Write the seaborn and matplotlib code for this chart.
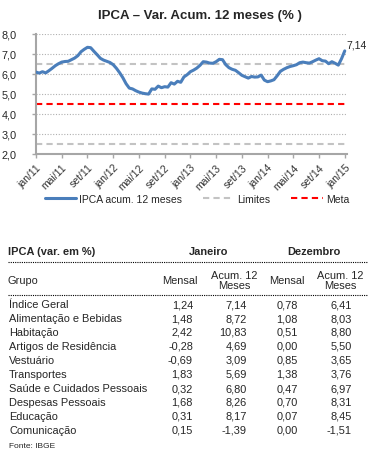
import numpy as np
import pandas as pd
import matplotlib
matplotlib.use("Agg")
import matplotlib.pyplot as plt
import seaborn as sns
from matplotlib.lines import Line2D

# serie IPCA acumulado 12 meses (quinzenal, jan/11 a jan/15)
ipca = [6.08, 6.03, 6.10, 6.04, 6.15, 6.27, 6.40, 6.50, 6.58, 6.61,
        6.62, 6.70, 6.78, 6.90, 7.10, 7.22, 7.32, 7.30, 7.12, 6.95,
        6.77, 6.68, 6.62, 6.56, 6.45, 6.27, 6.05, 5.80, 5.50, 5.28,
        5.24, 5.15, 5.08, 5.03, 5.00, 4.98, 5.24, 5.22, 5.38, 5.30,
        5.35, 5.33, 5.55, 5.48, 5.62, 5.57, 5.84, 5.95, 6.10, 6.18,
        6.28, 6.42, 6.60, 6.58, 6.53, 6.52, 6.60, 6.72, 6.70, 6.45,
        6.30, 6.22, 6.17, 6.05, 5.92, 5.85, 5.78, 5.86, 5.83, 5.84,
        5.93, 5.68, 5.60, 5.64, 5.70, 5.90, 6.12, 6.22, 6.30, 6.36,
        6.40, 6.45, 6.55, 6.58, 6.55, 6.53, 6.60, 6.68, 6.75, 6.65,
        6.63, 6.50, 6.60, 6.52, 6.43, 6.75, 7.14]
limites = [6.5, 2.5]
meta = 4.5
xlabels = ['jan/11', 'mai/11', 'set/11', 'jan/12', 'mai/12', 'set/12', 'jan/13',
           'mai/13', 'set/13', 'jan/14', 'mai/14', 'set/14', 'jan/15']

# tabela
grupos = ['Índice Geral', 'Alimentação e Bebidas', 'Habitação', 'Artigos de Residência',
          'Vestuário', 'Transportes', 'Saúde e Cuidados Pessoais', 'Despesas Pessoais',
          'Educação', 'Comunicação']
jan_mensal = [1.24, 1.48, 2.42, -0.28, -0.69, 1.83, 0.32, 1.68, 0.31, 0.15]
jan_acum = [7.14, 8.72, 10.83, 4.69, 3.09, 5.69, 6.80, 8.26, 8.17, -1.39]
dez_mensal = [0.78, 1.08, 0.51, 0.00, 0.85, 1.38, 0.47, 0.70, 0.07, 0.00]
dez_acum = [6.41, 8.03, 8.80, 5.50, 3.65, 3.76, 6.97, 8.31, 8.45, -1.51]

sns.set_style('white')
plt.rcParams['font.family'] = ['Liberation Sans', 'DejaVu Sans']

W, H = 375, 456
fig = plt.figure(figsize=(W / 100, H / 100), dpi=100)

def fx(px):
    return px / W

def fy(py):
    return 1 - py / H

ax = fig.add_axes([fx(35.7), fy(154.7), fx(347) - fx(35.7), fy(34.7) - fy(154.7)])

df = pd.DataFrame({'i': np.arange(len(ipca)), 'v': ipca})
azul = '#4a7ebb'
for y in limites:
    ax.axhline(y, color='#c3c3c3', lw=1.5, ls=(0, (3, 2)), zorder=2)
ax.axhline(meta, color='#ff0000', lw=1.5, ls=(0, (3, 2)), zorder=2)
sns.lineplot(data=df, x='i', y='v', ax=ax, color=azul, lw=2.2, zorder=3)

ax.set_xlim(-0.1, 96.7)
ax.set_ylim(2, 8)
ax.set_yticks(range(2, 9))
ax.set_yticklabels([f'{v},0' for v in range(2, 9)], fontsize=7.8)
ax.set_xticks(np.arange(0, 97, 8))
ax.set_xticklabels(xlabels, rotation=45, ha='right', rotation_mode='anchor',
                   fontsize=7.5, color='#333333')
ax.set_xlabel('')
ax.set_ylabel('')
for y in range(3, 9):
    ax.axhline(y, color='#b0b0b0', lw=0.8, ls=(0, (1, 1.5)), zorder=1)
for s in ['top', 'right']:
    ax.spines[s].set_visible(False)
for s in ['left', 'bottom']:
    ax.spines[s].set_color('#a6a6a6')
    ax.spines[s].set_linewidth(1.5)
ax.tick_params(axis='y', length=3, width=1, color='#a6a6a6', pad=11, left=True)
ax.tick_params(axis='x', length=3, width=1, color='#a6a6a6', pad=3, bottom=True)
ax.annotate('7,14', xy=(96, 7.14), xytext=(1, 1), textcoords='offset points',
            fontsize=7.5, ha='left', va='bottom', annotation_clip=False)

fig.text(0.5 * (fx(97) + fx(303)), fy(16), 'IPCA – Var. Acum. 12 meses (% )',
         ha='center', va='center', fontsize=9.5, fontweight='bold')

handles = [Line2D([], [], color=azul, lw=2.2),
           Line2D([], [], color='#c3c3c3', lw=1.5, ls=(0, (3, 2))),
           Line2D([], [], color='#ff0000', lw=1.5, ls=(0, (3, 2)))]
fig.legend(handles, ['IPCA acum. 12 meses', 'Limites', 'Meta'], loc='center',
           bbox_to_anchor=(fx(197), fy(200)), ncol=3, frameon=False, fontsize=7.5,
           handlelength=3.0, columnspacing=2.0, handletextpad=0.3)

# tabela
fs = 7.9
fig.text(fx(8), fy(252), 'IPCA (var. em %)', fontsize=fs, fontweight='bold', va='center')
fig.text(fx(209), fy(252), 'Janeiro', fontsize=fs, fontweight='bold', va='center', ha='center')
fig.text(fx(314), fy(252), 'Dezembro', fontsize=fs, fontweight='bold', va='center', ha='center')
fig.add_artist(Line2D([fx(8), fx(368)], [fy(263), fy(263)], color='black', lw=0.8,
                      ls=(0, (1, 1))))
fig.text(fx(8), fy(281), 'Grupo', fontsize=fs, va='center')
fig.text(fx(180), fy(281), 'Mensal', fontsize=fs, va='center', ha='center')
fig.text(fx(234.5), fy(281), 'Acum. 12\nMeses', fontsize=fs, va='center', ha='center',
         linespacing=1.1)
fig.text(fx(287), fy(281), 'Mensal', fontsize=fs, va='center', ha='center')
fig.text(fx(340), fy(281), 'Acum. 12\nMeses', fontsize=fs, va='center', ha='center',
         linespacing=1.1)
fig.add_artist(Line2D([fx(8), fx(368)], [fy(296), fy(296)], color='black', lw=0.8,
                      ls=(0, (1, 1))))

def br(v):
    return f'{v:.2f}'.replace('.', ',')

for k, g in enumerate(grupos):
    yy = fy(305 + 14 * k)
    fig.text(fx(9), yy, g, fontsize=fs, va='center')
    fig.text(fx(193), yy, br(jan_mensal[k]), fontsize=fs, va='center', ha='right')
    fig.text(fx(247), yy, br(jan_acum[k]), fontsize=fs, va='center', ha='right')
    fig.text(fx(298), yy, br(dez_mensal[k]), fontsize=fs, va='center', ha='right')
    fig.text(fx(352), yy, br(dez_acum[k]), fontsize=fs, va='center', ha='right')
fig.text(fx(9), fy(447), 'Fonte: IBGE', fontsize=6, va='center')

fig.savefig('out.png', dpi=100)
